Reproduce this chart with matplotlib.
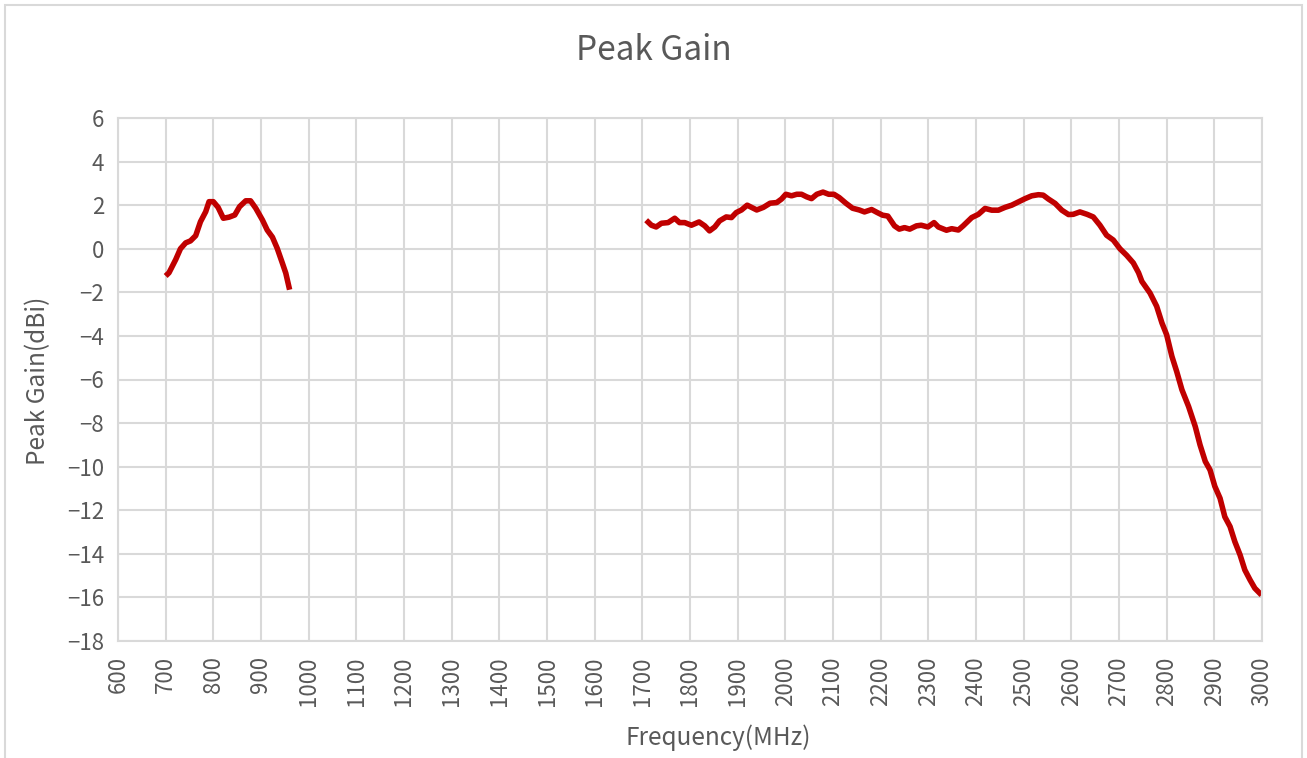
import numpy as np
import matplotlib
matplotlib.use("Agg")
import matplotlib.pyplot as plt
from matplotlib.patches import Rectangle

plt.rcParams['font.family'] = ['Noto Sans CJK SC', 'DejaVu Sans']

# low band (MHz, dBi)
freq_low = [700, 707, 721, 731, 742, 752, 763, 773, 784, 791, 800, 810, 821, 833, 845,
            855, 868, 878, 889, 903, 913, 924, 934, 945, 952, 960]
gain_low = [-1.25, -1.1, -0.5, 0.0, 0.27, 0.36, 0.6, 1.24, 1.7, 2.16, 2.16, 1.9, 1.4, 1.45, 1.55,
            1.93, 2.2, 2.2, 1.86, 1.32, 0.86, 0.53, 0.02, -0.67, -1.12, -1.88]

# high band (MHz, dBi)
freq_high = [1708, 1719, 1729, 1740, 1754, 1768, 1778, 1789, 1803, 1819, 1831, 1841, 1852, 1862,
             1876, 1887, 1897, 1908, 1920, 1929, 1940, 1954, 1968, 1982, 1992, 2001, 2013, 2024,
             2034, 2045, 2055, 2066, 2079, 2091, 2102, 2113, 2127, 2141, 2155, 2166, 2181, 2193,
             2204, 2215, 2229, 2239, 2250, 2261, 2275, 2285, 2299, 2312, 2321, 2338, 2349, 2363,
             2373, 2391, 2405, 2419, 2433, 2447, 2461, 2475, 2489, 2503, 2517, 2531, 2541, 2552,
             2566, 2580, 2594, 2604, 2618, 2633, 2646, 2660, 2674, 2688, 2702, 2716, 2730, 2741,
             2748, 2765, 2779, 2790, 2800, 2811, 2821, 2832, 2846, 2860, 2870, 2881, 2891, 2901,
             2912, 2922, 2933, 2943, 2954, 2964, 2975, 2985, 2999]
gain_high = [1.31, 1.08, 1.0, 1.17, 1.2, 1.4, 1.2, 1.2, 1.08, 1.23, 1.05, 0.82, 1.0, 1.28,
             1.46, 1.43, 1.66, 1.78, 2.0, 1.9, 1.78, 1.9, 2.09, 2.12, 2.28, 2.5, 2.43, 2.5,
             2.5, 2.38, 2.3, 2.5, 2.6, 2.5, 2.5, 2.35, 2.09, 1.86, 1.78, 1.69, 1.8, 1.66,
             1.54, 1.5, 1.05, 0.9, 0.97, 0.9, 1.05, 1.08, 1.0, 1.2, 1.0, 0.85, 0.92, 0.86,
             1.05, 1.43, 1.58, 1.85, 1.77, 1.77, 1.9, 2.0, 2.15, 2.3, 2.43, 2.48, 2.46, 2.28,
             2.08, 1.77, 1.57, 1.58, 1.69, 1.58, 1.46, 1.08, 0.62, 0.4, 0.0, -0.3, -0.65, -1.1,
             -1.5, -2.03, -2.64, -3.4, -3.95, -4.94, -5.63, -6.47, -7.24, -8.16, -9.0, -9.76, -10.15, -10.9,
             -11.45, -12.3, -12.75, -13.44, -14.05, -14.74, -15.2, -15.58, -15.89]

xticks = list(range(600, 3001, 100))
yticks = list(range(-18, 7, 2))

grey = '#595959'
grid_c = '#d9d9d9'
red = '#c00000'

fig = plt.figure(figsize=(13.07, 7.58), dpi=100)
ax = fig.add_axes([118/1307, 1-641/758, (1262-118)/1307, (641-118)/758])

ax.plot(freq_low, gain_low, color=red, lw=4, solid_capstyle='butt', solid_joinstyle='round')
ax.plot(freq_high, gain_high, color=red, lw=4, solid_capstyle='butt', solid_joinstyle='round')

ax.set_xlim(600, 3000)
ax.set_ylim(-18, 6)
ax.set_xticks(xticks)
ax.set_yticks(yticks)
ax.set_xticklabels([str(t) for t in xticks], rotation=90)
ax.tick_params(length=0, labelsize=16, labelcolor=grey)
ax.tick_params(axis='x', pad=11)
ax.tick_params(axis='y', pad=10)
ax.grid(True, color=grid_c, lw=1.5)
ax.set_axisbelow(True)
for s in ax.spines.values():
    s.set_color(grid_c)
    s.set_linewidth(1.5)

fig.text(654/1307, 1-50/758, 'Peak Gain', fontsize=24, color=grey, ha='center', va='center',
         fontweight='light')
ax.set_xlabel('Frequency(MHz)', fontsize=17.5, color=grey, va='center')
ax.set_ylabel('Peak Gain(dBi)', fontsize=17.5, color=grey, va='center')
ax.xaxis.set_label_coords((718-118)/1144, (641-738)/523)
ax.yaxis.set_label_coords((38-118)/1144, (641-381)/523)

# outer chart border
fig.patches.append(Rectangle((5/1307, -0.01), 1297/1307, 1 - 5/758 + 0.01, transform=fig.transFigure,
                             fill=False, edgecolor=grid_c, lw=1.5))

fig.savefig('out.png', dpi=100)
